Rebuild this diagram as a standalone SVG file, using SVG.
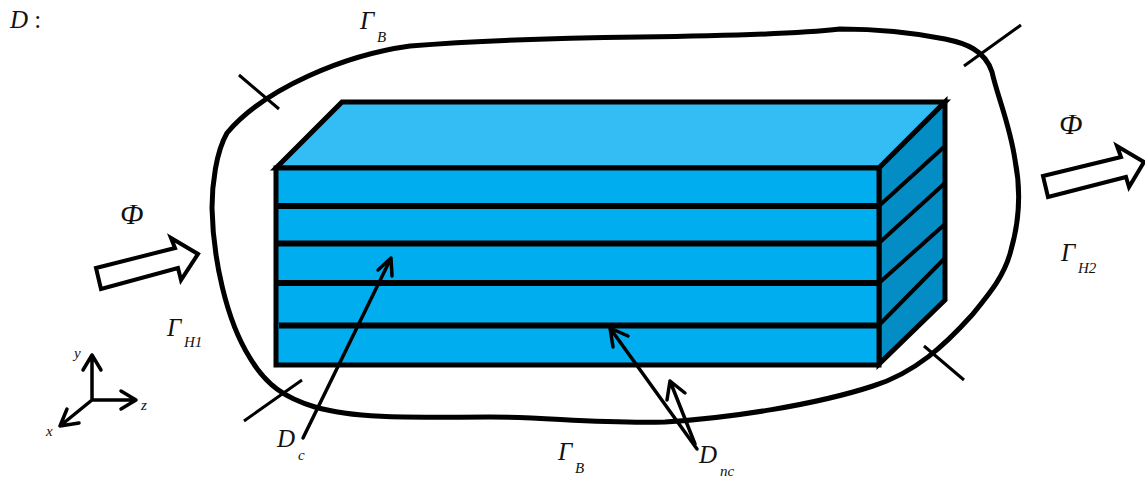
<svg xmlns="http://www.w3.org/2000/svg" width="1145" height="479" viewBox="0 0 1145 479">
<defs><style>
.t{font-family:"Liberation Serif","Times New Roman",serif;font-style:italic;fill:#111}
.big{font-size:29px}.mid{font-size:25px}.sub{font-size:15px}.ax{font-size:15px}
.k{fill:none;stroke:#000;stroke-linecap:butt;stroke-linejoin:miter}
.face{stroke:#000;stroke-width:5;stroke-linejoin:miter}
.band{fill:none;stroke:#000;stroke-width:6}
.side{fill:none;stroke:#000;stroke-width:4}
.pt{fill:none;stroke:#000;stroke-width:3.5;stroke-linecap:round;stroke-linejoin:round}
.fl{fill:#fff;stroke:#000;stroke-width:4;stroke-linejoin:miter}
</style></defs>
<rect width="1145" height="479" fill="#fff"/>
<g id="boundary"><path class="k" stroke-width="5" d="M227 133C216 152 212 185 212 208C213 258 226 320 250 358C266 385 285 398 315 407C360 420 425 417 490 417C545 417 600 424 665 422C730 418 815 405 873 386C915 373 945 345 972 315C990 293 1005 275 1011 250C1021 215 1020 185 1015 160C1010 125 997 95 992 72C985 50 965 43 945 39C910 32 870 29 840 29C805 33 720 36 640 37C560 38 470 41 410 46C345 55 265 88 227 133Z"/></g>
<g id="boundary-ticks"><path class="k" stroke-width="3" d="M239 75L279 109M964 66L1021 25M924 346L964 380M244 421L302 380"/></g>
<g id="prism">
<path class="face" fill="#33bdf4" d="M276 168L342 102H945L879 168Z"/>
<path class="face" fill="#038dc4" d="M879 168L945 102V300L879 364Z"/>
<rect class="face" fill="#00aeef" x="276" y="168" width="603" height="197"/>
<path class="band" d="M276 206H879M276 243.500H879M276 283H879M279 325.500H879"/>
<path class="side" d="M879 206L945 146M879 243L945 183M879 283L945 224M879 325L945 258"/>
</g>
<g id="inlet-flux"><path class="fl" d="M96 268L175 248L171 238L198 254L181 280L178 268L101 289Z"/></g>
<g id="outlet-flux"><path class="fl" d="M1043 176L1121 157L1117 146L1144 162L1129 187L1126 177L1048 197Z"/></g>
<g id="axes"><path class="pt" d="M92 400V355M83 370L92 355L101 370M92 400H136M121 391L136 400L121 409M92 400L60 426M67 409L60 426L79 423"/></g>
<g id="connectors"><path class="pt" d="M303 438L391 258M378 270L391 258L392 276"/>
<path class="pt" d="M697 449L610 328M610 328L628 336M610 328L613 347"/>
<path class="pt" d="M695 444L670 381M670 381L667 400M670 381L685 393"/></g>
<g id="labels">
<text class="t mid" x="10" y="28">D<tspan font-style="normal"> :</tspan></text>
<text class="t mid" x="360" y="29">Г</text><text class="t sub" x="377" y="42">B</text>
<text class="t big" x="120" y="224">Ф</text>
<text class="t big" x="1059" y="134">Ф</text>
<text class="t mid" x="167" y="336">Г</text><text class="t sub" x="184" y="347">H1</text>
<text class="t mid" x="1061" y="261">Г</text><text class="t sub" x="1078" y="273">H2</text>
<text class="t mid" x="558" y="460">Г</text><text class="t sub" x="575" y="473">B</text>
<text class="t mid" x="277" y="447">D</text><text class="t sub" x="298" y="460">c</text>
<text class="t mid" x="699" y="463">D</text><text class="t sub" x="720" y="476">nc</text>
<text class="t ax" x="74" y="358">y</text><text class="t ax" x="141" y="410">z</text><text class="t ax" x="46" y="436">x</text>
</g>
</svg>
